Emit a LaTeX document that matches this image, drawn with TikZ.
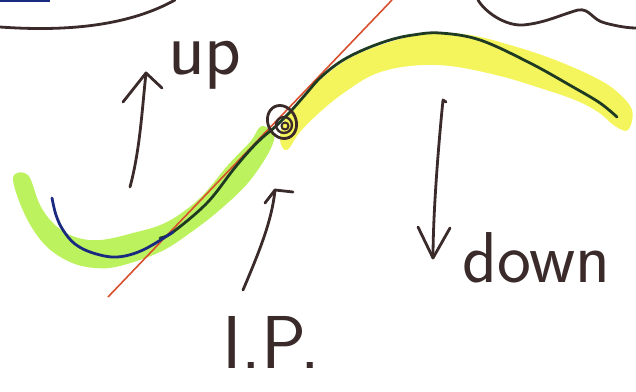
\documentclass[tikz,border=0pt]{standalone}
\usetikzlibrary{calc}
\definecolor{ink}{HTML}{3A2A2A}
\definecolor{redln}{HTML}{D9502E}
\definecolor{hlgreen}{HTML}{BDF25F}
\definecolor{hlyellow}{HTML}{F4F55C}
\definecolor{curvegreen}{HTML}{1F3A22}
\definecolor{curveblue}{HTML}{1A2A80}
\tikzset{
  pen/.style={draw=ink, line width=2.8pt, line cap=round, line join=round},
  handtext/.style={text=ink, font=\sffamily\fontsize{#1}{#1}\selectfont, inner sep=0pt, anchor=base west},
  curveline/.style={line width=2.8pt, line cap=round, line join=round}
}
\begin{document}
\begin{tikzpicture}[x=1pt, y=-1pt]
\useasboundingbox (0,0) rectangle (636,391);
% highlight bands
\fill[hlyellow] plot[smooth cycle, tension=0.6] coordinates {
  (285,118) (300,100) (320,80) (350,58) (390,42) (430,33) (470,35) (510,45)
  (550,58) (590,75) (615,90) (632,110) (628,130) (615,126) (598,112) (575,100)
  (540,88) (500,76) (450,66) (410,66) (375,74) (345,92) (320,112) (300,132) (287,150) (280,140)};
\fill[hlgreen] plot[smooth cycle, tension=0.6] coordinates {
  (13,178) (28,175) (40,205) (55,225) (75,237) (100,240) (133,233) (167,222)
  (200,198) (228,165) (250,142) (262,126) (274,140) (252,178) (222,208) (190,233)
  (160,252) (120,266) (95,268) (70,262) (45,245) (25,215)};
% tangent line
\draw[redln, line width=1.6pt] (108,297) -- (392,0);
% main curve
\draw[curveline, curvegreen] plot[smooth, tension=0.6] coordinates {
  (160,238) (173,232) (207,203) (233,170) (250,150) (263,137) (275,127) (290,112)
  (305,95) (320,78) (340,62) (363,50) (390,40) (413,35) (440,33) (480,40)
  (530,63) (573,87) (600,103) (617,117)};
\draw[curveline, curveblue] plot[smooth, tension=0.6] coordinates {
  (52,198) (56,215) (63,230) (75,244) (93,253) (117,257) (143,250) (173,232)};
% inflection point marker
\draw[pen, line width=2.8pt, rotate around={25:(282,122)}] (282,122) ellipse [x radius=14, y radius=17];
\draw[pen, line width=2.4pt] (284,125) circle [radius=8];
\draw[pen, line width=2pt] (285,126) circle [radius=3.5];
% top outlines
\draw[pen] (0,27) .. controls (70,32) and (130,25) .. (175,0);
\draw[pen] (478,0) .. controls (485,12) and (505,26) .. (523,25)
  .. controls (545,23) and (560,15) .. (578,10)
  .. controls (590,8) and (592,20) .. (605,23)
  .. controls (620,27) and (630,28) .. (636,28);
\draw[curveblue, line width=3pt] (0,0.5) -- (50,0.5);
% arrows
\draw[pen] (130,187) .. controls (140,150) and (142,110) .. (146,73);
\draw[pen] (123,102) -- (146,73) -- (162,88);
\draw[pen] (243,290) .. controls (260,250) and (272,220) .. (275,190);
\draw[pen] (265,203) -- (275,190) -- (293,192);
\draw[pen] (446,102) -- (443,100) .. controls (437,160) and (433,220) .. (433,258);
\draw[pen] (418,227) -- (433,258) -- (450,228);
% labels
\node[handtext=76] (up) at (168,74) {up};
\node[handtext=72] (down) at (462,282) {down};
\node[handtext=75] (ip) at (222,368) {I.P.};
\end{tikzpicture}
\end{document}
